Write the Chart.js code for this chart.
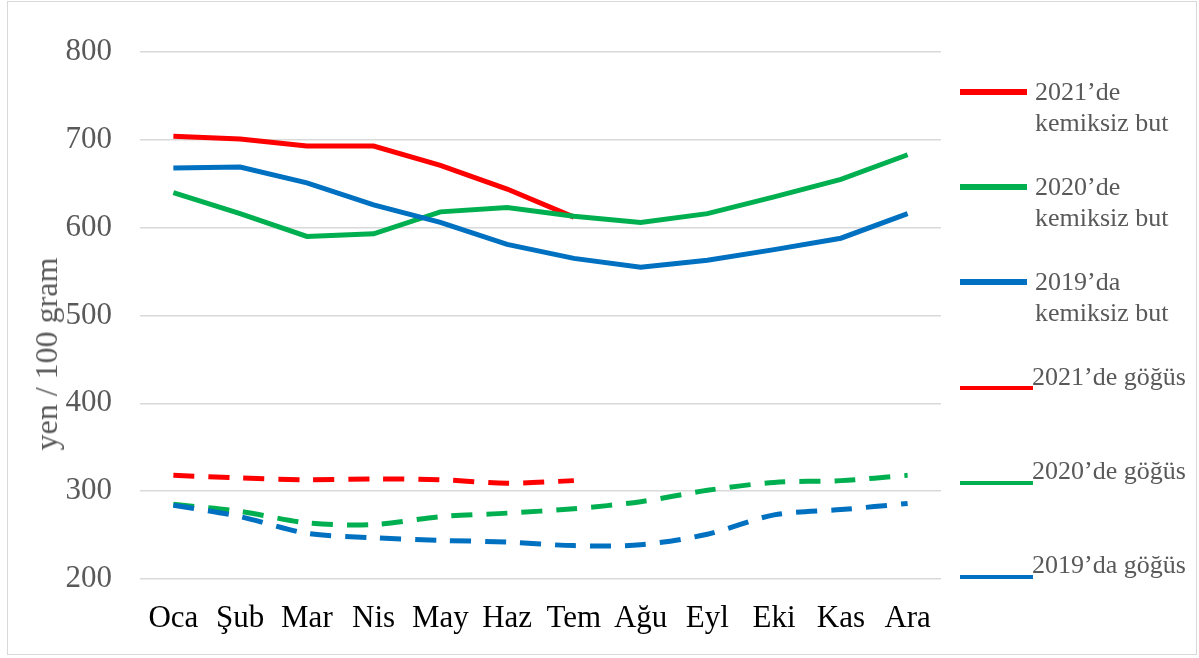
<!DOCTYPE html>
<html>
<head>
<meta charset="utf-8">
<script src="https://cdn.jsdelivr.net/npm/chart.js@4.4.1/dist/chart.umd.min.js"></script>
<style>
  html, body { margin: 0; padding: 0; background: #fff; }
  #wrap { position: relative; width: 1199px; height: 658px; overflow: hidden; }
  #frame { position: absolute; left: 7px; top: 1px; width: 1190px; height: 654px; border: 1.5px solid #d9d9d9; box-sizing: border-box; }
  canvas { position: absolute; left: 0; top: 0; }
  .lg-line { position: absolute; left: 960px; }
  .lg-text { position: absolute; font-family: "Liberation Serif", "Times New Roman", serif; font-size: 26px; line-height: 31px; color: #595959; white-space: nowrap; }
  #ytitle { position: absolute; left: 46px; top: 354px; transform: translate(-50%, -50%) rotate(-90deg);
    font-family: "Liberation Serif", "Times New Roman", serif; font-size: 32px; line-height: 32px; color: #595959; white-space: nowrap; }
</style>
</head>
<body>
<div id="wrap">
  <div id="frame"></div>
  <canvas id="chart" width="1199" height="658"></canvas>
  <div id="ytitle">yen / 100 gram</div>
  <div id="legend"></div>
</div>
<script>
const months = ['Oca', 'Şub', 'Mar', 'Nis', 'May', 'Haz', 'Tem', 'Ağu', 'Eyl', 'Eki', 'Kas', 'Ara'];
const yTicks = [200, 300, 400, 500, 600, 700, 800];

const but2021 = [704, 701, 693, 693, 671, 644, 612, null, null, null, null, null];
const but2020 = [640, 616, 590, 593, 618, 623, 613, 606, 616, 635, 655, 683];
const but2019 = [668, 669, 651, 626, 606, 581, 565, 555, 563, 575, 588, 616];
const gogus2021 = [318, 315, 313, 314, 313, 309, 312, null, null, null, null, null];
const gogus2020 = [285, 277, 264, 262, 271, 275, 280, 288, 301, 310, 312, 318];
const gogus2019 = [284, 271, 252, 247, 244, 242, 238, 239, 251, 273, 279, 286];

const seriesNames = ['2021’de\nkemiksiz but', '2020’de\nkemiksiz but', '2019’da\nkemiksiz but',
  '2021’de göğüs', '2020’de göğüs', '2019’da göğüs'];

const RED = '#ff0000', GREEN = '#00b050', BLUE = '#0070c0';
const FONT = '"Liberation Serif", "Times New Roman", serif';

function solid(label, data, color) {
  return { label, data, borderColor: color, backgroundColor: color, borderWidth: 5,
    pointRadius: 0, tension: 0, spanGaps: false, borderCapStyle: 'butt' };
}
function dashed(label, data, color) {
  return { label, data, borderColor: color, backgroundColor: color, borderWidth: 5,
    borderDash: [21, 14], pointRadius: 0, tension: 0.3, spanGaps: false, borderCapStyle: 'butt' };
}

const ctx = document.getElementById('chart').getContext('2d');
new Chart(ctx, {
  type: 'line',
  data: {
    labels: months,
    datasets: [
      dashed(seriesNames[5], gogus2019, BLUE),
      dashed(seriesNames[4], gogus2020, GREEN),
      dashed(seriesNames[3], gogus2021, RED),
      solid(seriesNames[2], but2019, BLUE),
      solid(seriesNames[1], but2020, GREEN),
      solid(seriesNames[0], but2021, RED)
    ]
  },
  options: {
    responsive: false,
    animation: false,
    layout: { padding: { top: 52, right: 258, left: 0, bottom: 0 } },
    plugins: { legend: { display: false }, tooltip: { enabled: false } },
    scales: {
      x: {
        offset: true,
        grid: { display: false },
        border: { display: false },
        ticks: { color: '#000', font: { family: FONT, size: 31 }, padding: 13, maxRotation: 0, autoSkip: false },
        afterFit: (s) => { s.height = 79; }
      },
      y: {
        min: 200, max: 800,
        afterBuildTicks: (s) => { s.ticks = yTicks.map(v => ({ value: v })); },
        grid: { color: '#d9d9d9', lineWidth: 1.5, drawTicks: false },
        border: { display: false },
        ticks: { color: '#595959', font: { family: FONT, size: 31 }, padding: 28 },
        afterFit: (s) => { s.width = 140; }
      }
    }
  }
});

// legend placed to the right like the original
const legendItems = [
  { color: RED, lineTop: 89, lineW: 67, lineH: 6, textTop: 76, textLeft: 1035 },
  { color: GREEN, lineTop: 184, lineW: 67, lineH: 6, textTop: 171, textLeft: 1035 },
  { color: BLUE, lineTop: 279, lineW: 67, lineH: 6, textTop: 266, textLeft: 1035 },
  { color: RED, lineTop: 386, lineW: 73, lineH: 3.5, textTop: 361, textLeft: 1032 },
  { color: GREEN, lineTop: 481, lineW: 73, lineH: 3.5, textTop: 455, textLeft: 1032 },
  { color: BLUE, lineTop: 575, lineW: 73, lineH: 3.5, textTop: 549, textLeft: 1032 }
];
const legend = document.getElementById('legend');
legendItems.forEach((it, i) => {
  const line = document.createElement('div');
  line.className = 'lg-line';
  line.style.cssText = `top:${it.lineTop}px;width:${it.lineW}px;height:${it.lineH}px;background:${it.color}`;
  legend.appendChild(line);
  const txt = document.createElement('div');
  txt.className = 'lg-text';
  txt.style.top = it.textTop + 'px';
  txt.style.left = it.textLeft + 'px';
  txt.innerHTML = seriesNames[i].split('\n').join('<br>');
  legend.appendChild(txt);
});
</script>
</body>
</html>
